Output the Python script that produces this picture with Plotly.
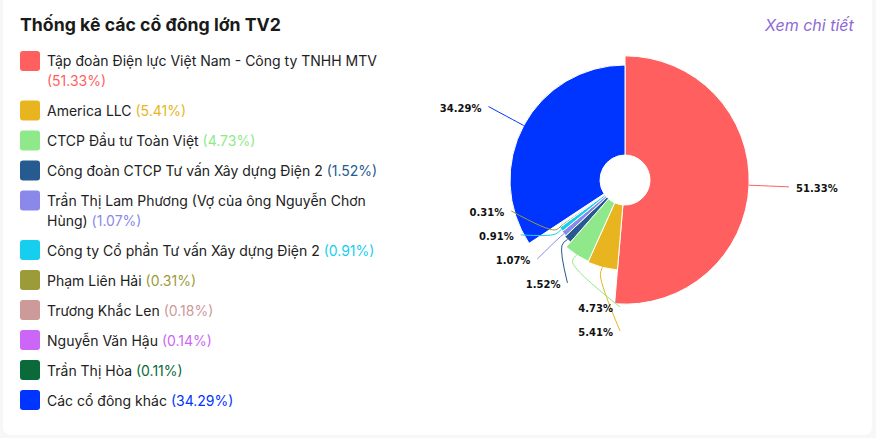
import math
import plotly.graph_objects as go

# ---------------- data ----------------
names = [
    "Tập đoàn Điện lực Việt Nam - Công ty TNHH MTV",
    "America LLC",
    "CTCP Đầu tư Toàn Việt",
    "Công đoàn CTCP Tư vấn Xây dựng Điện 2",
    "Trần Thị Lam Phương (Vợ của ông Nguyễn Chơn Hùng)",
    "Công ty Cổ phần Tư vấn Xây dựng Điện 2",
    "Phạm Liên Hải",
    "Trương Khắc Len",
    "Nguyễn Văn Hậu",
    "Trần Thị Hòa",
    "Các cổ đông khác",
]
values = [51.33, 5.41, 4.73, 1.52, 1.07, 0.91, 0.31, 0.18, 0.14, 0.11, 34.29]
colors = ["#ff5f5f", "#e8b521", "#8fe98a", "#255b8f", "#8a89e9", "#16cfee",
          "#9c9b3a", "#cc9a99", "#cc66f7", "#0b6a39", "#0034ff"]
title_text = "Thống kê các cổ đông lớn TV2"
link_text = "Xem chi tiết"

# ---------------- geometry / style ----------------
W, H = 876, 438
CX, CY = 625, 180          # pie centre (px)
R_DOM = 178                # polar radius in px (1 radial unit = 1 px)
HOLE = 25
R_BASE, R_K = 74, 7        # rose radius = R_BASE + R_K*sqrt(value)
L1 = 40                    # label line length
GAP = 24                   # min vertical distance between labels
MIN_ANGLE = 1.0            # hide labels of slices narrower than this (deg)
TXT_DX, TXT_DY = 7, 3      # text offset from line end

total = sum(values)
spans = [360.0 * v / total for v in values]
starts = []
acc = 0.0
for s in spans:
    starts.append(acc)
    acc += s
mids = [st + sp / 2 for st, sp in zip(starts, spans)]
outer = [R_BASE + R_K * math.sqrt(v) for v in values]

fig = go.Figure()

fig.add_trace(go.Barpolar(
    theta=mids,
    width=spans,
    r=[o - HOLE for o in outer],
    base=[HOLE] * len(values),
    marker=dict(color=colors, line=dict(color="white", width=1)),
    hoverinfo="skip",
    showlegend=False,
))

# ---------------- label layout (echarts-like) ----------------
def to_polar(dx, dy):
    return math.hypot(dx, dy), math.degrees(math.atan2(dx, -dy)) % 360

labels = []
for i, v in enumerate(values):
    if spans[i] < MIN_ANGLE:
        continue
    a = math.radians(mids[i])
    R = outer[i] + L1
    side = 1 if math.sin(a) >= 0 else -1
    y0 = -R * math.cos(a)
    labels.append(dict(i=i, side=side, y=y0, y0=y0, R=R))

for side in (1, -1):
    grp = sorted([l for l in labels if l["side"] == side], key=lambda l: l["y"])
    runs, cur = [], []
    last = None
    for l in grp:
        if last is not None and l["y"] - last < GAP:
            l["y"] = last + GAP
            cur.append(l)
        else:
            if cur:
                runs.append(cur)
            cur = [l]
        last = l["y"]
    if cur:
        runs.append(cur)
    for run in runs:
        if len(run) > 1:
            shift = sum(l["y"] - l["y0"] for l in run) / len(run)
            r_ell = min(l["R"] for l in run)
            for l in run:
                l["y"] -= shift
                l["R"] = r_ell

for l in labels:
    i = l["i"]
    a = math.radians(mids[i])
    dy = l["y"]
    dx = math.sqrt(max(l["R"] ** 2 - dy ** 2, 0.0))
    dx = max(dx, 5.0) * l["side"]
    ax, ay = outer[i] * math.sin(a), -outer[i] * math.cos(a)
    mx, my = (outer[i] + 8) * math.sin(a), -(outer[i] + 8) * math.cos(a)
    pts = [to_polar(ax, ay), to_polar(mx, my), to_polar(dx, dy)]
    fig.add_trace(go.Scatterpolar(
        r=[p[0] for p in pts], theta=[p[1] for p in pts],
        mode="lines", line=dict(color=colors[i], width=1, shape="spline"),
        cliponaxis=False, hoverinfo="skip", showlegend=False,
    ))
    tp = to_polar(dx + TXT_DX * l["side"], dy + TXT_DY)
    fig.add_trace(go.Scatterpolar(
        r=[tp[0]], theta=[tp[1]],
        mode="text",
        text=[f"{values[i]:.2f}%"],
        textposition="middle right" if l["side"] > 0 else "middle left",
        textfont=dict(family="DejaVu Sans", size=10, color="#111111", weight="bold"),
        cliponaxis=False, hoverinfo="skip", showlegend=False,
    ))

# ---------------- helpers for paper-pixel placement ----------------
def px(x):
    return x / W

def py(y):
    return 1 - y / H

def rrect(x0, y0, x1, y1, r):
    return (
        f"M {px(x0 + r)},{py(y0)} L {px(x1 - r)},{py(y0)} "
        f"Q {px(x1)},{py(y0)} {px(x1)},{py(y0 + r)} "
        f"L {px(x1)},{py(y1 - r)} Q {px(x1)},{py(y1)} {px(x1 - r)},{py(y1)} "
        f"L {px(x0 + r)},{py(y1)} Q {px(x0)},{py(y1)} {px(x0)},{py(y1 - r)} "
        f"L {px(x0)},{py(y0 + r)} Q {px(x0)},{py(y0)} {px(x0 + r)},{py(y0)} Z"
    )

shapes = [dict(type="path", xref="paper", yref="paper", path=rrect(3, -10, 872, 435, 9),
               fillcolor="white", line=dict(width=0), layer="below")]
annotations = []

FONT = "Inter, Roboto, sans-serif"
annotations.append(dict(xref="paper", yref="paper", x=px(18), y=py(25), xanchor="left",
                        yanchor="middle", showarrow=False,
                        text=f"<b>{title_text}</b>",
                        font=dict(family=FONT, size=17.7, color="#1a1a1a")))
annotations.append(dict(xref="paper", yref="paper", x=px(857), y=py(25), xanchor="right",
                        yanchor="middle", showarrow=False,
                        text=f"<i>{link_text}</i>",
                        font=dict(family=FONT, size=16, color="#8d6ad8")))

# ---------------- custom legend ----------------
WRAP = 46
LEG_Y0 = 61
ROW = 30
LINE_H = 19.5
y = LEG_Y0
for i, nm in enumerate(names):
    pct = f"({values[i]:.2f}%)"
    words = nm.split(" ") + [pct]
    lines, cur = [], ""
    for w in words:
        cand = (cur + " " + w) if cur else w
        if len(cand) > WRAP and cur:
            lines.append(cur)
            cur = w
        else:
            cur = cand
    lines.append(cur)
    shapes.append(dict(type="path", xref="paper", yref="paper",
                       path=rrect(20, y - 10, 40, y + 10, 3),
                       fillcolor=colors[i], line=dict(width=0)))
    for k, ln in enumerate(lines):
        if ln.endswith(pct):
            ln = ln[: -len(pct)] + f"<span style='color:{colors[i]}'>{pct}</span>"
        annotations.append(dict(xref="paper", yref="paper", x=px(45), y=py(y + k * LINE_H),
                                xanchor="left", yanchor="middle", showarrow=False,
                                text=ln, font=dict(family=FONT, size=14, color="#222222")))
    y += ROW + LINE_H * (len(lines) - 1)

fig.update_layout(
    width=W, height=H,
    margin=dict(l=0, r=0, t=0, b=0),
    paper_bgcolor="#f6f7f9",
    plot_bgcolor="white",
    showlegend=False,
    polar=dict(
        domain=dict(x=[px(CX - R_DOM), px(CX + R_DOM)], y=[py(CY + R_DOM), py(CY - R_DOM)]),
        bgcolor="rgba(0,0,0,0)",
        radialaxis=dict(range=[0, R_DOM], visible=False, showgrid=False),
        angularaxis=dict(rotation=90, direction="clockwise", visible=False, showgrid=False),
        barmode="overlay",
    ),
    shapes=shapes,
    annotations=annotations,
)

fig.write_html("out.html", config={"displayModeBar": False},
               post_script="document.body.style.margin='0';")
